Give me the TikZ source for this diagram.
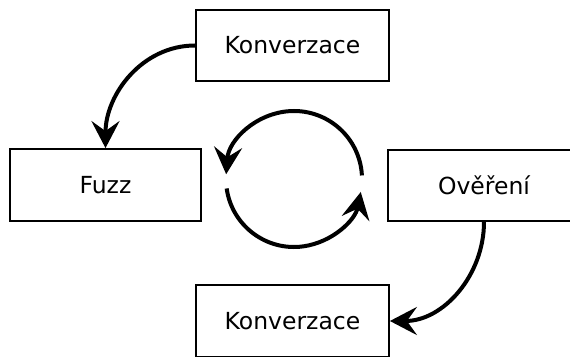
\documentclass[tikz,border=0pt]{standalone}
\usepackage{fontspec}
\setmainfont{DejaVu Sans}
\usetikzlibrary{arrows.meta}
\begin{document}
\begin{tikzpicture}[x=1pt,y=1pt,
  stagebox/.style={draw=black,line width=1.8pt,fill=white,
    minimum width=193pt,minimum height=71pt,inner sep=0pt,
    font=\fontsize{23.5}{28}\selectfont},
  flow/.style={line width=4pt,
    -{Stealth[length=27pt,width=28pt,inset=10pt]}}]
  \useasboundingbox (0,0) rectangle (570,356);
  \clip (0,0) rectangle (570,356);
  \fill[white] (0,0) rectangle (570,356);

  % the four stages
  \node[stagebox] (konvA) at (292.5,310.5) {Konverzace};
  \node[stagebox,minimum width=191pt,minimum height=72pt] (fuzz) at (105.5,171) {Fuzz};
  \node[stagebox,minimum width=192pt] (overeni) at (484,170.5) {Ověření};
  \node[stagebox,minimum height=72pt] (konvB) at (292.5,35) {Konverzace};

  % the cycle in the middle
  \coordinate (cyc) at (294,177);
  \draw[flow] ([shift={(3:68pt)}]cyc) arc[start angle=3,end angle=176,radius=68pt];
  \draw[flow] ([shift={(188:68pt)}]cyc) arc[start angle=188,end angle=349,radius=68pt];

  % connectors between stages
  \draw[flow] (konvA.west) to[out=180,in=90] (fuzz.north);
  \draw[flow] (overeni.south) to[out=-90,in=0] (konvB.east);
\end{tikzpicture}
\end{document}
